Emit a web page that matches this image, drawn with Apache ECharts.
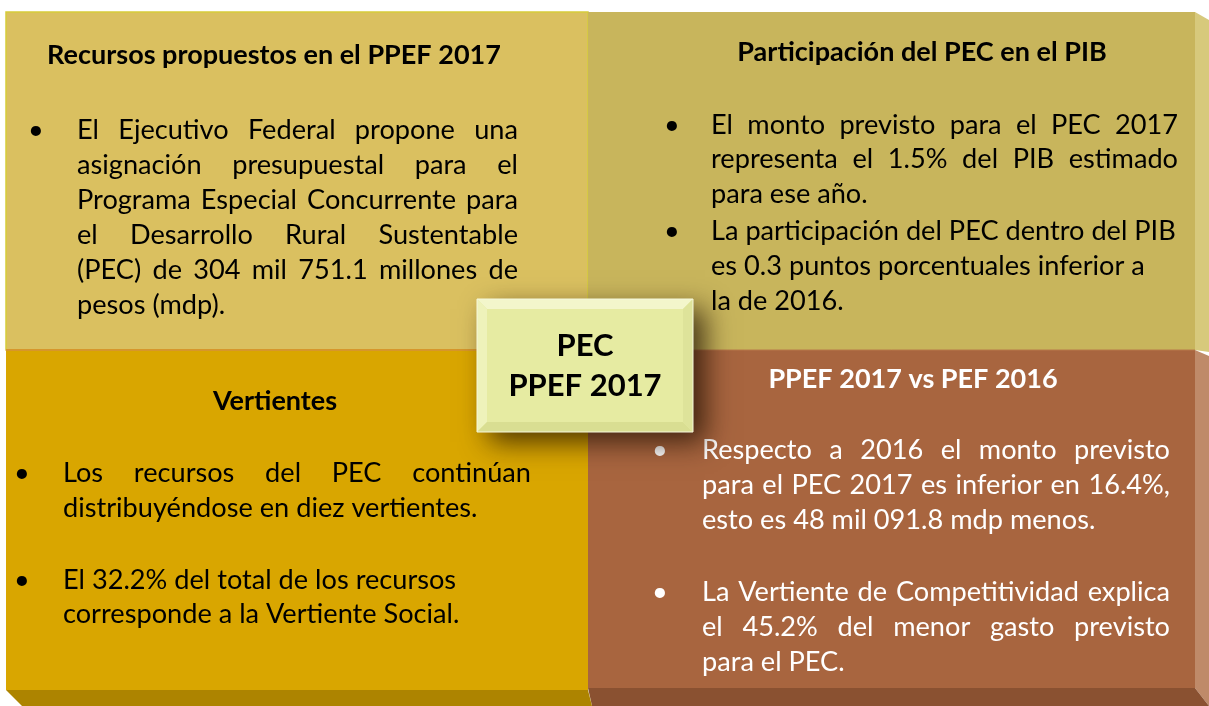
<!DOCTYPE html>
<html><head><meta charset="utf-8">
<script src="https://cdn.jsdelivr.net/npm/echarts@6/dist/echarts.min.js"></script>
<style>html,body{margin:0;padding:0;background:#fff}#c{width:1209px;height:706px}</style>
</head><body><div id="c"></div>
<script>
// ---------- content ----------
const titles = [
  'Recursos propuestos en el PPEF 2017',
  'Participación del PEC en el PIB',
  'Vertientes',
  'PPEF 2017 vs PEF 2016'
];
const bulletsTL = [
  {justify: true, lines: ['El Ejecutivo Federal  propone una', 'asignación presupuestal para el', 'Programa Especial Concurrente para', 'el Desarrollo Rural Sustentable', '(PEC) de 304 mil 751.1 millones de', 'pesos (mdp).']}
];
const bulletsTR = [
  {justify: true, lines: ['El monto previsto para el PEC 2017', 'representa el 1.5% del PIB estimado', 'para ese año.']},
  {justify: false, lines: ['La participación del PEC dentro del PIB', 'es 0.3 puntos porcentuales inferior a', 'la de 2016.']}
];
const bulletsBL = [
  {justify: true, lines: ['Los recursos del PEC continúan', 'distribuyéndose en diez vertientes.']},
  {justify: false, lines: ['El 32.2% del total de los recursos', 'corresponde a la Vertiente Social.']}
];
const bulletsBR = [
  {justify: true, lines: ['Respecto a 2016 el monto previsto', 'para el PEC 2017 es inferior en 16.4%,', 'esto es 48 mil 091.8 mdp menos.']},
  {justify: true, lines: ['La Vertiente de Competitividad explica', 'el 45.2% del menor gasto previsto', 'para el PEC.']}
];
const centerLines = ['PEC', 'PPEF 2017'];

// ---------- layout / style ----------
const FAMILY = 'Lato, "Open Sans", sans-serif';
const measureCtx = document.createElement('canvas').getContext('2d');
function textWidth(str, size, weight) {
  measureCtx.font = (weight || 'normal') + ' ' + size + 'px ' + FAMILY;
  return measureCtx.measureText(str).width;
}
const bodySize = 24 * 465 / textWidth('La participación del PEC dentro del PIB', 24);
const titleSize = 22 * 454 / textWidth('Recursos propuestos en el PPEF 2017', 22, 'bold');

const panels = [
  {x: 6, y: 12, w: 582, h: 338, fill: '#DAC060', stroke: '#D6CB3A', color: '#000',
   title: titles[0], titleX: 274, titleY: 55, bulletX: 36, left: 77, right: 518,
   lineY: [130, 165, 200, 235, 270, 305], bullets: bulletsTL},
  {x: 588, y: 12, w: 607, h: 338, fill: '#C8B55C', stroke: null, color: '#000',
   title: titles[1], titleX: 922, titleY: 52, bulletX: 672, left: 711, right: 1178,
   lineY: [125, 159, 194, 231, 266, 301], bullets: bulletsTR},
  {x: 6, y: 350, w: 582, h: 340, fill: '#D9A600', stroke: null, color: '#000',
   title: titles[2], titleX: 275, titleY: 401, bulletX: 22, left: 63, right: 531,
   lineY: [473, 508, 580, 614], bullets: bulletsBL},
  {x: 588, y: 350, w: 607, h: 338, fill: '#A8653F', stroke: null, color: '#fff',
   title: titles[3], titleX: 913, titleY: 379, bulletX: 660, left: 702, right: 1170,
   lineY: [450, 485, 520, 592, 627, 662], bullets: bulletsBR}
];

const g = [];
// panel faces
panels.forEach(p => {
  g.push({type: 'rect', shape: {x: p.x, y: p.y, width: p.w, height: p.h},
    style: {fill: p.fill, stroke: p.stroke || null, lineWidth: p.stroke ? 1.5 : 0}, z: 1});
});
// 3D edges
g.push({type: 'polygon', shape: {points: [[1195, 12], [1209, 20], [1209, 352], [1195, 350]]}, style: {fill: '#D7C97C'}, z: 1});
g.push({type: 'polygon', shape: {points: [[1195, 350], [1209, 356], [1209, 706], [1195, 688]]}, style: {fill: '#BF8A69'}, z: 1});
g.push({type: 'polygon', shape: {points: [[588, 688], [1195, 688], [1209, 706], [592, 706]]}, style: {fill: '#8A5131'}, z: 1});
g.push({type: 'polygon', shape: {points: [[6, 690], [588, 690], [592, 706], [22, 706]]}, style: {fill: '#AD8400'}, z: 1});
g.push({type: 'line', shape: {x1: 6, y1: 350, x2: 588, y2: 350}, style: {stroke: '#D6962C', lineWidth: 2}, z: 2});
g.push({type: 'line', shape: {x1: 588, y1: 350, x2: 1195, y2: 350}, style: {stroke: '#B8784A', lineWidth: 1}, z: 2});

// text
panels.forEach(p => {
  g.push({type: 'text', z: 5, style: {text: p.title, x: p.titleX, y: p.titleY, align: 'center', verticalAlign: 'middle',
    fontSize: titleSize, fontWeight: 'bold', fontFamily: FAMILY, fill: p.color}});
  let li = 0;
  p.bullets.forEach(b => {
    g.push({type: 'text', z: 5, style: {text: '•', x: p.bulletX, y: p.lineY[li], align: 'center', verticalAlign: 'middle',
      fontSize: bodySize, fontFamily: FAMILY, fill: p.color}});
    b.lines.forEach((line, k) => {
      const y = p.lineY[li++];
      const last = k === b.lines.length - 1;
      if (b.justify && !last) {
        const words = line.split(/\s+/);
        const widths = words.map(w => textWidth(w, bodySize));
        const total = widths.reduce((a, c) => a + c, 0);
        const gap = (p.right - p.left - total) / (words.length - 1);
        let x = p.left;
        words.forEach((w, i) => {
          g.push({type: 'text', z: 5, style: {text: w, x: x, y: y, align: 'left', verticalAlign: 'middle',
            fontSize: bodySize, fontFamily: FAMILY, fill: p.color}});
          x += widths[i] + gap;
        });
      } else {
        g.push({type: 'text', z: 5, style: {text: line, x: p.left, y: y, align: 'left', verticalAlign: 'middle',
          fontSize: bodySize, fontFamily: FAMILY, fill: p.color}});
      }
    });
  });
});

// center box
const cb = {x: 477, y: 299, w: 216, h: 133, b: 10};
g.push({type: 'rect', z: 6, shape: {x: cb.x, y: cb.y, width: cb.w, height: cb.h},
  style: {fill: '#E6EBA2', shadowBlur: 26, shadowOffsetX: 12, shadowOffsetY: 10, shadowColor: 'rgba(30,15,0,0.75)'}});
const X0 = cb.x, Y0 = cb.y, X1 = cb.x + cb.w, Y1 = cb.y + cb.h, B = cb.b;
g.push({type: 'polygon', z: 7, shape: {points: [[X0, Y0], [X1, Y0], [X1 - B, Y0 + B], [X0 + B, Y0 + B]]}, style: {fill: '#F3F6CB'}});
g.push({type: 'polygon', z: 7, shape: {points: [[X0, Y0], [X0 + B, Y0 + B], [X0 + B, Y1 - B], [X0, Y1]]}, style: {fill: '#EEF2BA'}});
g.push({type: 'polygon', z: 7, shape: {points: [[X0, Y1], [X1, Y1], [X1 - B, Y1 - B], [X0 + B, Y1 - B]]}, style: {fill: '#D9DE92'}});
g.push({type: 'polygon', z: 7, shape: {points: [[X1, Y0], [X1, Y1], [X1 - B, Y1 - B], [X1 - B, Y0 + B]]}, style: {fill: '#DEE39A'}});
g.push({type: 'rect', z: 7, shape: {x: X0, y: Y0, width: cb.w, height: cb.h}, style: {fill: null, stroke: '#F6F8DC', lineWidth: 1}});
const cY = [346, 386];
centerLines.forEach((t, i) => {
  g.push({type: 'text', z: 8, style: {text: t, x: (X0 + X1) / 2, y: cY[i], align: 'center', verticalAlign: 'middle',
    fontSize: 31, fontWeight: 'bold', fontFamily: FAMILY, fill: '#000'}});
});

const chart = echarts.init(document.getElementById('c'), null, {renderer: 'canvas'});
chart.setOption({backgroundColor: '#fff', animation: false, graphic: {elements: g}});
</script>
</body></html>
